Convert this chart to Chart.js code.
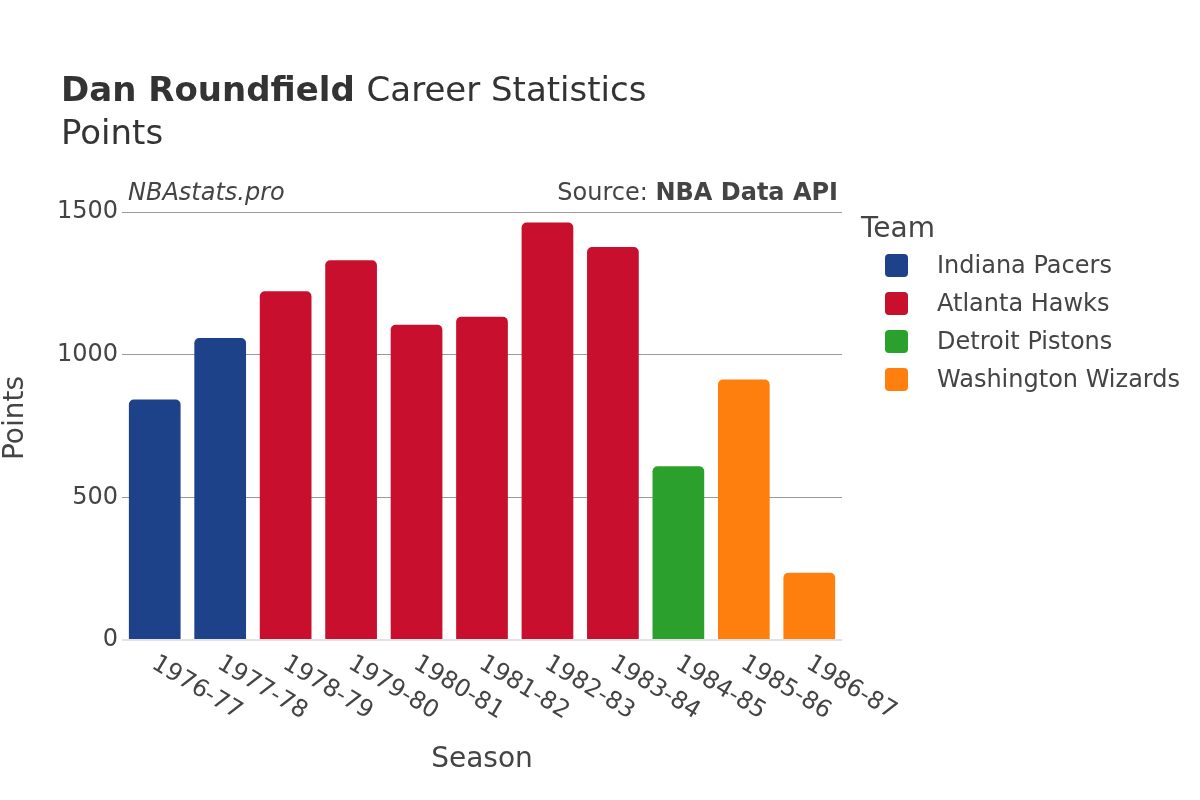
<!DOCTYPE html>
<html>
<head>
<meta charset="utf-8">
<script src="https://cdn.jsdelivr.net/npm/chart.js@4.4.0/dist/chart.umd.min.js"></script>
<style>
html,body{margin:0;padding:0;background:#fff;}
#wrap{width:1200px;height:800px;position:relative;}
</style>
</head>
<body>
<div id="wrap"><canvas id="c" width="1200" height="800"></canvas></div>
<script>
const seasons = ["1976-77","1977-78","1978-79","1979-80","1980-81","1981-82","1982-83","1983-84","1984-85","1985-86","1986-87"];
const seasonTeam = ["Indiana Pacers","Indiana Pacers","Atlanta Hawks","Atlanta Hawks","Atlanta Hawks","Atlanta Hawks","Atlanta Hawks","Atlanta Hawks","Detroit Pistons","Washington Wizards","Washington Wizards"];
const points = [843, 1058, 1222, 1331, 1105, 1133, 1463, 1377, 609, 913, 236];
const teams = ["Indiana Pacers","Atlanta Hawks","Detroit Pistons","Washington Wizards"];
const teamColors = ["#1d4289","#c8102e","#2ca02c","#ff7f0e"];
const yTicks = [0, 500, 1000, 1500];

const FONT = "'DejaVu Sans', sans-serif";
const TXT = "#444";

const datasets = teams.map((t, k) => ({
  label: t,
  data: points.map((v, i) => seasonTeam[i] === t ? v : null),
  backgroundColor: teamColors[k],
  borderRadius: 5,
  borderSkipped: 'start',
  barPercentage: 0.79,
  categoryPercentage: 1.0
}));

const overlay = {
  id: 'overlay',
  afterDraw(chart) {
    const ctx = chart.ctx;
    const xs = chart.scales.x;
    ctx.save();
    ctx.fillStyle = "#333";
    // Title
    ctx.textBaseline = 'alphabetic';
    ctx.textAlign = 'left';
    ctx.font = "bold 34px " + FONT;
    const t1 = "Dan Roundfield";
    ctx.fillText(t1, 61, 101);
    const w1 = ctx.measureText(t1 + " ").width;
    ctx.font = "34px " + FONT;
    ctx.fillText("Career Statistics", 61 + w1, 101);
    ctx.fillText("Points", 61, 144);

    // Subtitles
    ctx.fillStyle = TXT;
    ctx.font = "italic 24px " + FONT;
    ctx.fillText("NBAstats.pro", 128, 200);
    ctx.textAlign = 'right';
    ctx.font = "bold 24px " + FONT;
    const src2 = "NBA Data API";
    ctx.fillText(src2, 838, 200);
    const w2 = ctx.measureText(src2).width;
    ctx.font = "24px " + FONT;
    ctx.fillText("Source: ", 838 - w2, 200);

    // X tick labels rotated
    ctx.font = "24px " + FONT;
    ctx.textAlign = 'left';
    ctx.textBaseline = 'middle';
    seasons.forEach((s, i) => {
      const x = xs.getPixelForValue(i);
      ctx.save();
      ctx.translate(x - 1, 662);
      ctx.rotate(31 * Math.PI / 180);
      ctx.fillText(s, 0, 0);
      ctx.restore();
    });

    // Axis titles
    ctx.font = "28px " + FONT;
    ctx.textAlign = 'center';
    ctx.textBaseline = 'middle';
    ctx.fillText("Season", 482, 760);
    ctx.save();
    ctx.translate(16, 418);
    ctx.rotate(-Math.PI / 2);
    ctx.fillText("Points", 0, 0);
    ctx.restore();

    // Legend
    ctx.textAlign = 'left';
    ctx.textBaseline = 'alphabetic';
    ctx.font = "28px " + FONT;
    ctx.fillText("Team", 861, 237);
    ctx.font = "24px " + FONT;
    ctx.textBaseline = 'middle';
    teams.forEach((t, k) => {
      const cy = 265.5 + k * 38;
      ctx.fillStyle = teamColors[k];
      ctx.beginPath();
      ctx.roundRect(885, cy - 11.5, 23, 23, 4);
      ctx.fill();
      ctx.fillStyle = TXT;
      ctx.fillText(t, 937, cy + 1);
    });
    ctx.restore();
  }
};

new Chart(document.getElementById('c'), {
  type: 'bar',
  data: { labels: seasons, datasets },
  options: {
    responsive: false,
    animation: false,
    layout: { padding: { top: 212, right: 358, left: 0, bottom: 0 } },
    plugins: { legend: { display: false }, title: { display: false }, tooltip: { enabled: false } },
    scales: {
      x: {
        stacked: true,
        offset: true,
        grid: { display: false, drawTicks: false },
        border: { display: false },
        ticks: { display: false },
        afterFit(s) { s.height = 160; }
      },
      y: {
        stacked: true,
        min: 0, max: 1500,
        afterBuildTicks(s) { s.ticks = yTicks.map(v => ({ value: v })); },
        afterFit(s) { s.width = 122; },
        border: { display: false },
        grid: {
          drawTicks: false,
          color: ctx => ctx.tick && ctx.tick.value === 0 ? '#e3e3e3' : '#9a9a9a',
          lineWidth: ctx => ctx.tick && ctx.tick.value === 0 ? 2 : 1
        },
        ticks: { padding: 4, color: TXT, font: { family: FONT, size: 24 }, callback: v => String(v) }
      }
    }
  },
  plugins: [overlay]
});
</script>
</body>
</html>
